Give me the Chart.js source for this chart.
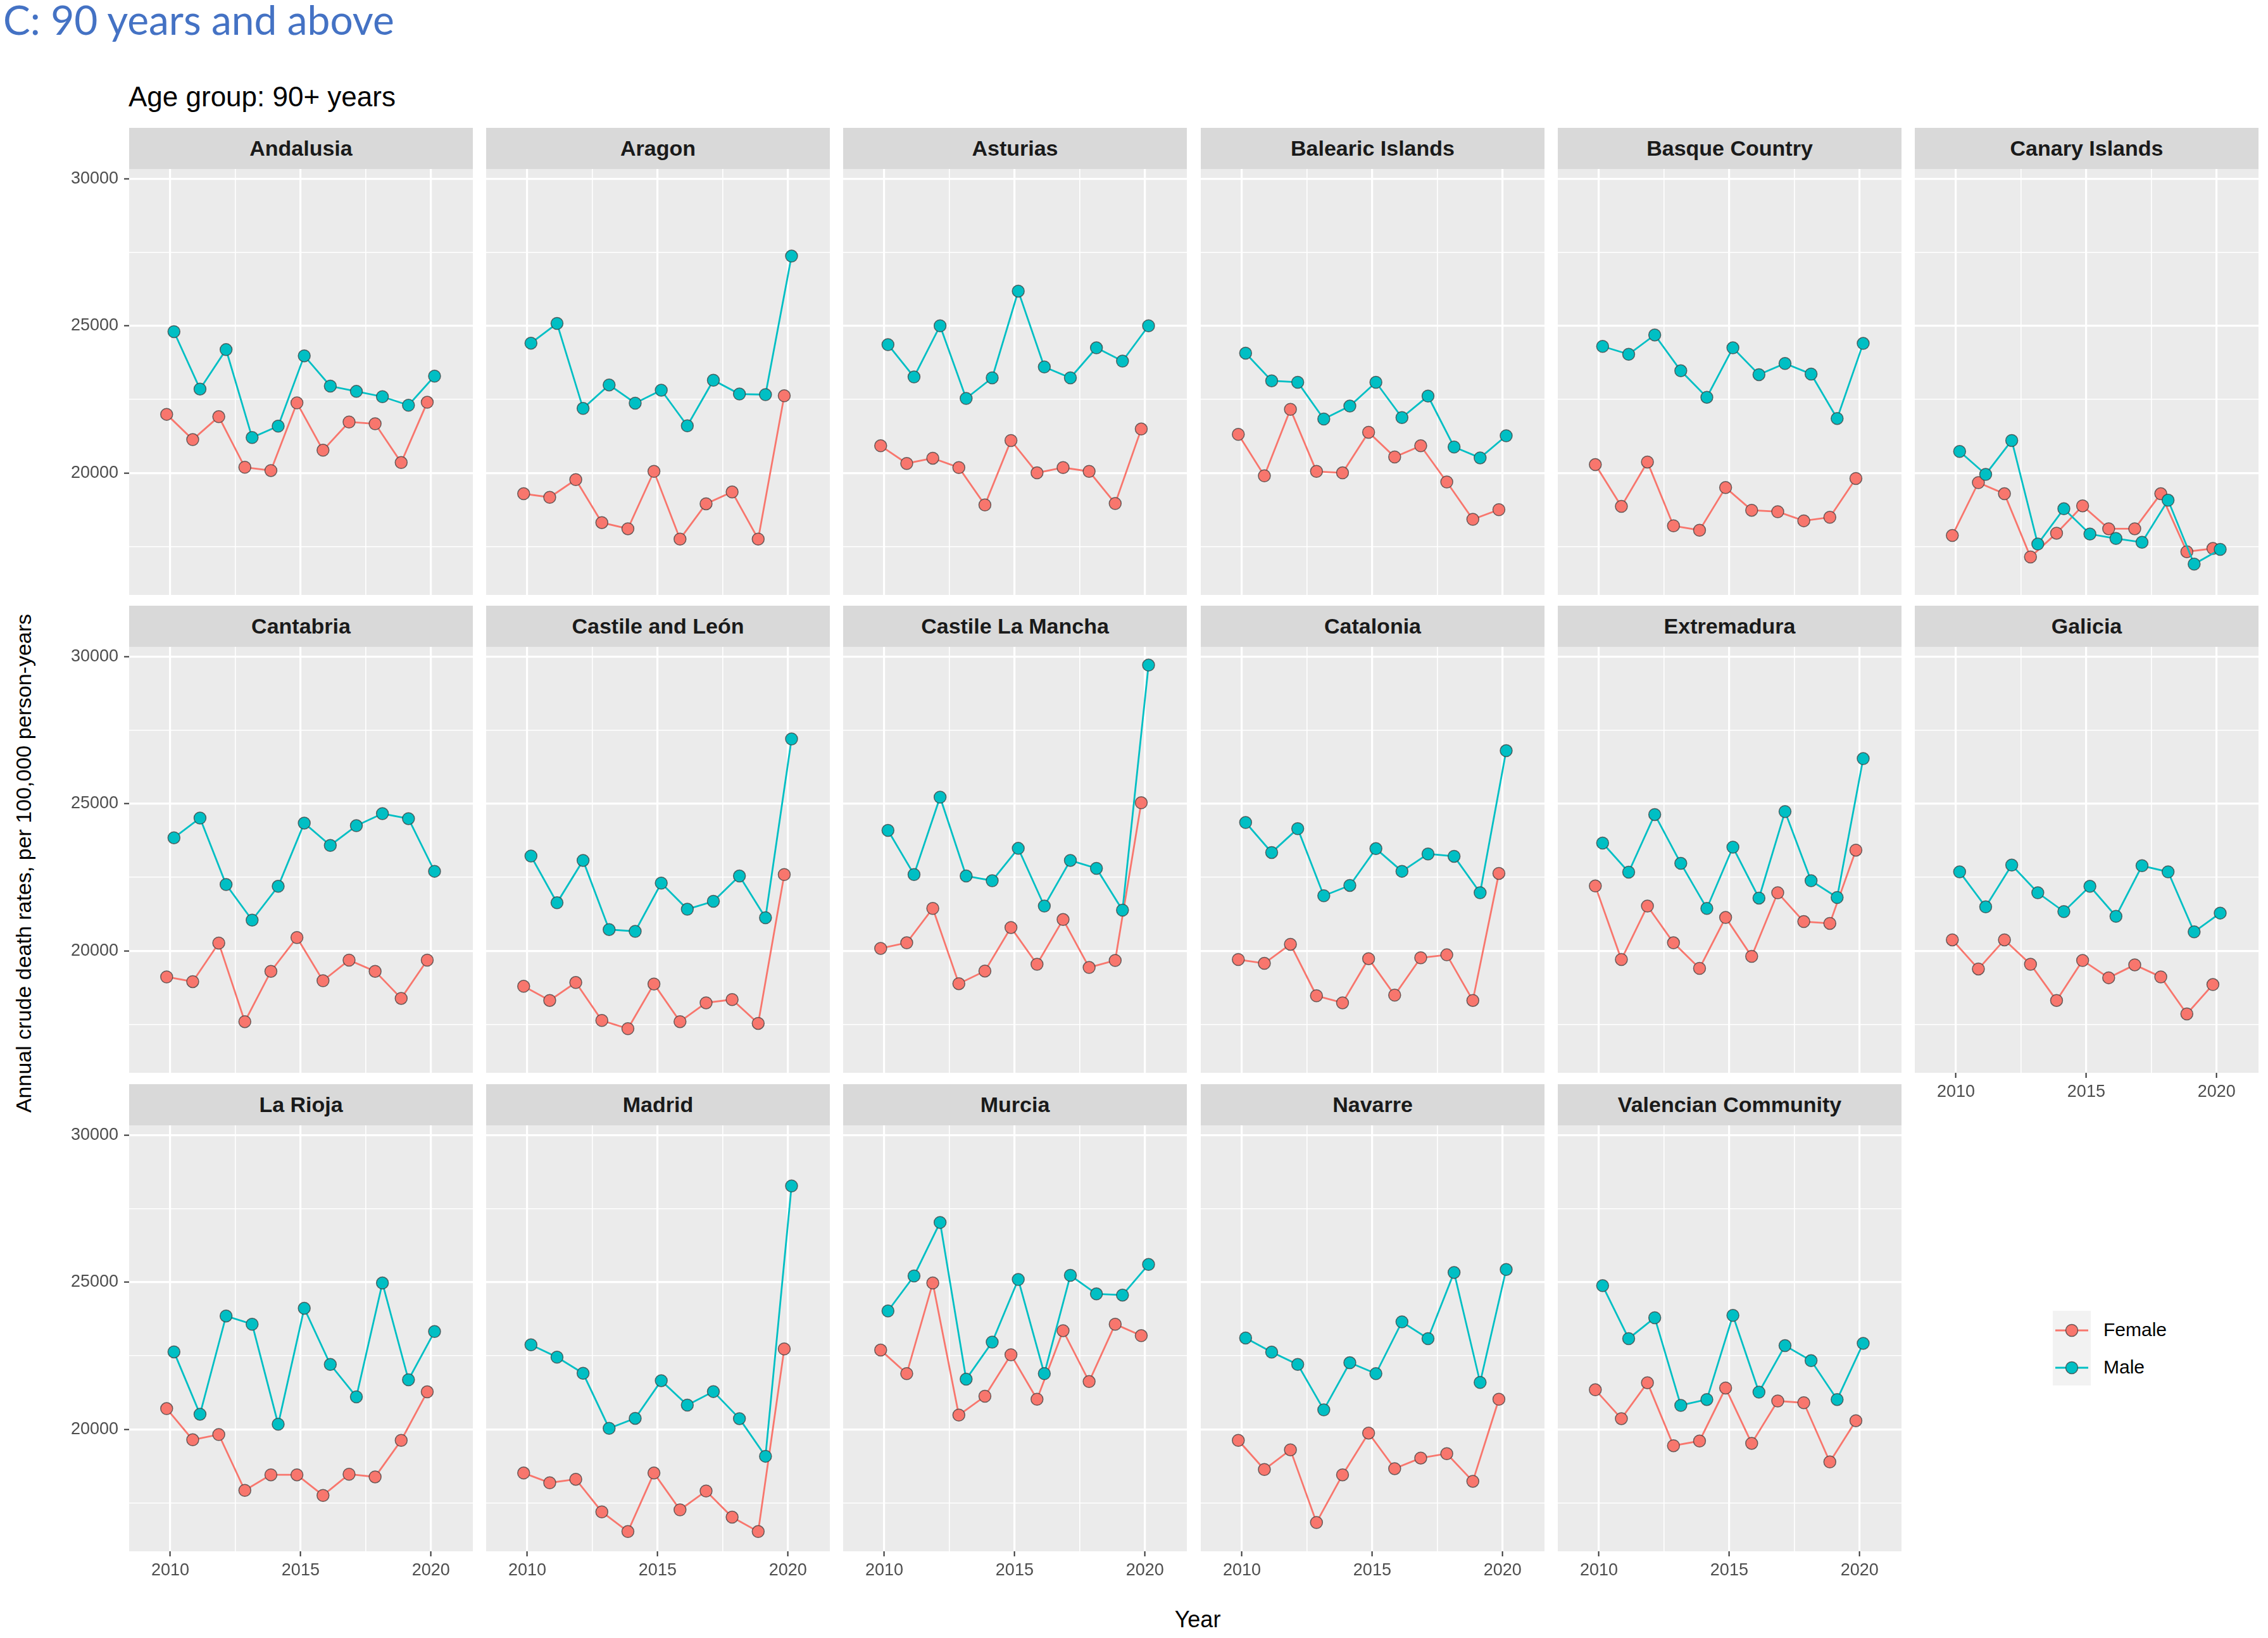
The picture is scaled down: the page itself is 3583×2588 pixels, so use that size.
<!DOCTYPE html>
<html><head><meta charset="utf-8">
<script src="https://cdn.jsdelivr.net/npm/chart.js@4.4.1/dist/chart.umd.min.js"></script>
<style>
html,body{margin:0;padding:0;background:#fff;width:3583px;height:2588px;overflow:hidden;position:relative;font-family:"Liberation Sans",Arial,sans-serif}
.strip{position:absolute;background:#D9D9D9;color:#1A1A1A;font-weight:bold;font-size:34px;display:flex;align-items:center;justify-content:center;white-space:nowrap}
canvas{position:absolute}
#mainTitle{position:absolute;left:5px;top:-8px;font-family:Lato,"Open Sans",sans-serif;font-size:64px;color:#4472C4;white-space:nowrap}
#subTitle{position:absolute;left:203px;top:128px;font-size:44px;color:#000;white-space:nowrap}
#yTitle{position:absolute;left:37px;top:1364px;transform:translate(-50%,-50%) rotate(-90deg);font-size:34px;color:#000;white-space:nowrap}
#xTitle{position:absolute;left:1892px;top:2559px;transform:translate(-50%,-50%);font-size:36px;color:#000;white-space:nowrap}
#legend{position:absolute;left:3243px;top:2071px}
.lgItem{position:absolute;font-size:30px;color:#000;white-space:nowrap}
</style></head><body>
<div id="mainTitle">C: 90 years and above</div>
<div id="subTitle">Age group: 90+ years</div>
<div id="yTitle">Annual crude death rates, per 100,000 person-years</div>
<div id="xTitle">Year</div>
<script>
// ---------- data ----------
const years = [2010,2011,2012,2013,2014,2015,2016,2017,2018,2019,2020];
const regions = ["Andalusia","Aragon","Asturias","Balearic Islands","Basque Country","Canary Islands",
  "Cantabria","Castile and León","Castile La Mancha","Catalonia","Extremadura","Galicia",
  "La Rioja","Madrid","Murcia","Navarre","Valencian Community"];
const seriesNames = ["Female","Male"];
const yTickValues = [17500,20000,22500,25000,27500,30000];
const xTickValues = [2010,2012.5,2015,2017.5,2020];

const andalusiaFemale = [21990,21130,21910,20190,20080,22380,20770,21730,21670,20350,22400];
const andalusiaMale   = [24800,22850,24190,21200,21590,23980,22950,22770,22590,22300,23290];
const aragonFemale = [19290,19170,19770,18310,18100,20050,17750,18950,19350,17750,22620];
const aragonMale   = [24410,25080,22190,22990,22370,22810,21600,23150,22680,22660,27370];
const asturiasFemale = [20920,20320,20500,20180,18910,21100,20000,20180,20050,18960,21490];
const asturiasMale   = [24360,23260,25000,22530,23230,26180,23600,23230,24250,23800,25000];
const balearicFemale = [21310,19900,22160,20050,20000,21380,20540,20920,19690,18420,18750];
const balearicMale   = [24070,23130,23080,21830,22270,23080,21880,22610,20880,20510,21260];
const basqueFemale = [20280,18860,20370,18200,18050,19500,18730,18680,18370,18490,19810];
const basqueMale   = [24300,24030,24690,23470,22570,24250,23340,23720,23360,21850,24400];
const canaryFemale = [17870,19670,19290,17140,17950,18880,18100,18100,19290,17320,17430];
const canaryMale   = [20730,19950,21100,17580,18780,17920,17770,17640,19070,16900,17400];
const cantabriaFemale = [19110,18950,20260,17590,19300,20450,18980,19680,19300,18380,19680];
const cantabriaMale   = [23840,24510,22250,21040,22190,24340,23580,24250,24660,24490,22700];
const castileLeonFemale = [18790,18310,18920,17630,17350,18870,17590,18230,18340,17530,22590];
const castileLeonMale   = [23220,21630,23070,20720,20660,22300,21410,21680,22540,21120,27200];
const castileLaManchaFemale = [20080,20270,21440,18880,19310,20790,19540,21060,19430,19670,25030];
const castileLaManchaMale   = [24090,22590,25220,22540,22380,23480,21520,23070,22800,21380,29710];
const cataloniaFemale = [19700,19570,20220,18470,18230,19730,18490,19760,19860,18310,22630];
const cataloniaMale   = [24360,23340,24150,21870,22220,23470,22700,23290,23210,21970,26800];
const extremaduraFemale = [22200,19700,21520,20270,19400,21130,19810,21970,20990,20930,23420];
const extremaduraMale   = [23660,22670,24630,22970,21440,23520,21790,24730,22380,21810,26530];
const galiciaFemale = [20370,19380,20370,19540,18310,19670,19080,19520,19110,17850,18850];
const galiciaMale   = [22680,21490,22910,21970,21330,22190,21170,22890,22680,20640,21280];
const laRiojaFemale = [20700,19640,19820,17920,18450,18450,17750,18470,18380,19620,21270];
const laRiojaMale   = [22630,20510,23850,23570,20170,24110,22200,21100,24970,21680,23320];
const madridFemale = [18510,18180,18300,17190,16520,18510,17260,17900,17010,16520,22730];
const madridMale   = [22870,22450,21900,20030,20370,21650,20820,21280,20360,19080,28270];
const murciaFemale = [22690,21890,24970,20480,21120,22530,21020,23350,21620,23570,23180];
const murciaMale   = [24020,25210,27030,21700,22960,25090,21890,25230,24600,24560,25600];
const navarreFemale = [19620,18630,19300,16830,18450,19870,18660,19020,19170,18230,21020];
const navarreMale   = [23100,22620,22200,20660,22260,21890,23650,23080,25330,21590,25430];
const valencianFemale = [21340,20360,21580,19440,19600,21400,19520,20960,20900,18890,20290];
const valencianMale   = [24880,23080,23790,20810,21010,23870,21260,22840,22330,21010,22920];

const femaleByRegion = [andalusiaFemale,aragonFemale,asturiasFemale,balearicFemale,basqueFemale,canaryFemale,
  cantabriaFemale,castileLeonFemale,castileLaManchaFemale,cataloniaFemale,extremaduraFemale,galiciaFemale,
  laRiojaFemale,madridFemale,murciaFemale,navarreFemale,valencianFemale];
const maleByRegion = [andalusiaMale,aragonMale,asturiasMale,balearicMale,basqueMale,canaryMale,
  cantabriaMale,castileLeonMale,castileLaManchaMale,cataloniaMale,extremaduraMale,galiciaMale,
  laRiojaMale,madridMale,murciaMale,navarreMale,valencianMale];

// ---------- style / layout ----------
const COLORS = {Female:"#F8766D", Male:"#00BFC4"};
const DODGE = 0.14;
const COL_LEFT = [204,768,1332,1897,2461,3025];
const PANEL_W = 543;
const ROW_STRIP_TOP = [202,957,1713];
const STRIP_H = 65, PANEL_H = 673;
const YW = 104, XH = 62;
const Y_MIN = 15850, Y_MAX = 30330, X_MIN = 2008.42, X_MAX = 2021.61;

const bgPlugin = {
  id:'panelBg',
  beforeDraw(chart){
    const {ctx, chartArea:a} = chart;
    ctx.save(); ctx.fillStyle = '#EBEBEB';
    ctx.fillRect(a.left, a.top, a.right-a.left, a.bottom-a.top);
    ctx.restore();
  }
};

function makePanel(idx){
  const r = Math.floor(idx/6), c = idx%6;
  const showY = c===0;
  const showX = r===2 || (r===1 && c===5);
  const stripTop = ROW_STRIP_TOP[r];
  const panelTop = stripTop + STRIP_H;
  const left = COL_LEFT[c];

  const strip = document.createElement('div');
  strip.className='strip';
  strip.style.left = left+'px'; strip.style.top = stripTop+'px';
  strip.style.width = PANEL_W+'px'; strip.style.height = STRIP_H+'px';
  strip.textContent = regions[idx];
  document.body.appendChild(strip);

  const cw = PANEL_W + (showY?YW:0), ch = PANEL_H + (showX?XH:0);
  const cv = document.createElement('canvas');
  cv.width = cw; cv.height = ch;
  cv.style.width = cw+'px'; cv.style.height = ch+'px';
  cv.style.left = (left - (showY?YW:0))+'px'; cv.style.top = panelTop+'px';
  document.body.appendChild(cv);

  const mk = (name, vals, off) => ({
    label:name,
    data: years.map((y,i)=>({x:y+off, y:vals[i]})),
    showLine:true,
    borderColor:COLORS[name], borderWidth:2.8,
    pointBackgroundColor:COLORS[name], pointBorderColor:'rgba(60,60,60,0.75)',
    pointBorderWidth:1.5, pointRadius:9.5, pointHoverRadius:9.5,
    tension:0, clip:false
  });

  new Chart(cv, {
    type:'scatter',
    data:{datasets:[
      mk('Male', maleByRegion[idx], DODGE),
      mk('Female', femaleByRegion[idx], -DODGE)
    ]},
    plugins:[bgPlugin],
    options:{
      responsive:false, animation:false, devicePixelRatio:1,
      layout:{padding:0, autoPadding:false},
      plugins:{legend:{display:false}, tooltip:{enabled:false}, title:{display:false}},
      scales:{
        x:{
          type:'linear', position:'bottom', min:X_MIN, max:X_MAX,
          afterBuildTicks: s => { s.ticks = xTickValues.map(v=>({value:v})); },
          afterFit: s => { s.height = showX ? XH : 0; s.paddingLeft = 0; s.paddingRight = 0; },
          border:{display:false},
          grid:{color:'#FFFFFF', lineWidth: ctx => (ctx.tick && ctx.tick.value%5===0) ? 3.2 : 1.6,
                drawTicks:showX, tickLength:8, tickWidth:2,
                tickColor: ctx => (ctx.tick && ctx.tick.value%5===0) ? '#333333' : 'rgba(0,0,0,0)'},
          ticks:{display:showX, autoSkip:false, maxRotation:0, padding:6, color:'#4D4D4D',
                 font:{family:'"Liberation Sans", Arial, sans-serif', size:27},
                 callback: v => (v%5===0) ? String(v) : ''}
        },
        y:{
          type:'linear', position:'left', min:Y_MIN, max:Y_MAX,
          afterBuildTicks: s => { s.ticks = yTickValues.map(v=>({value:v})); },
          afterFit: s => { s.width = showY ? YW : 0; s.paddingTop = 0; s.paddingBottom = 0; },
          border:{display:false},
          grid:{color:'#FFFFFF', lineWidth: ctx => (ctx.tick && ctx.tick.value%5000===0) ? 3.2 : 1.6,
                drawTicks:showY, tickLength:8, tickWidth:2,
                tickColor: ctx => (ctx.tick && ctx.tick.value%5000===0) ? '#333333' : 'rgba(0,0,0,0)'},
          ticks:{display:showY, autoSkip:false, padding:9, color:'#4D4D4D',
                 font:{family:'"Liberation Sans", Arial, sans-serif', size:27},
                 callback: v => (v%5000===0) ? String(v) : ''}
        }
      }
    }
  });
}
regions.forEach((_,i)=>makePanel(i));

// ---------- legend ----------
const lg = document.createElement('div');
lg.id='legend';
let svg = '<svg width="60" height="118" style="position:absolute;left:0;top:0">'+
  '<rect x="0" y="0" width="60" height="118" fill="#F2F2F2"/>';
seriesNames.forEach((n,i)=>{
  const cy = 31 + i*59;
  svg += `<line x1="4" y1="${cy}" x2="56" y2="${cy}" stroke="${COLORS[n]}" stroke-width="2.8"/>`+
         `<circle cx="30" cy="${cy}" r="9.5" fill="${COLORS[n]}" stroke="rgba(60,60,60,0.75)" stroke-width="1.5"/>`;
});
svg += '</svg>';
lg.innerHTML = svg;
seriesNames.forEach((n,i)=>{
  const t = document.createElement('div');
  t.className='lgItem'; t.textContent=n;
  t.style.left='80px'; t.style.top=(31+i*59-18)+'px';
  lg.appendChild(t);
});
document.body.appendChild(lg);
</script>
</body></html>
